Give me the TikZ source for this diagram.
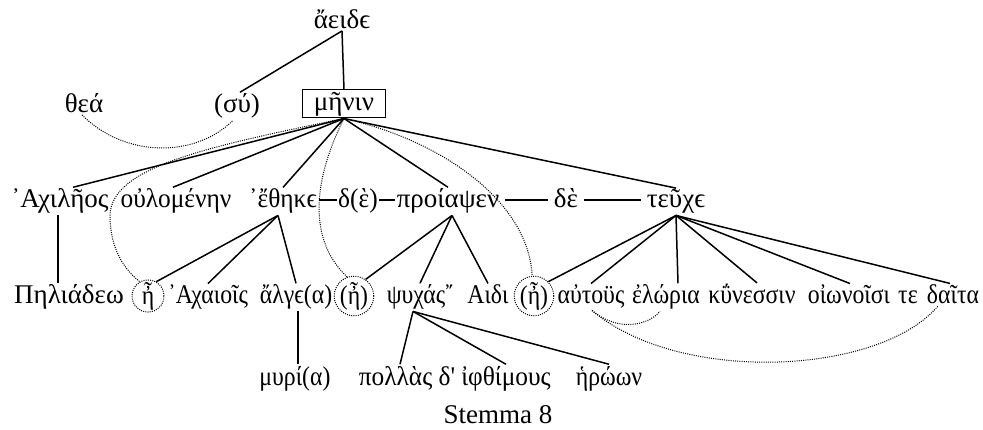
\documentclass[tikz,border=0pt]{standalone}
\usepackage{fontspec}
\setmainfont{Liberation Serif}
\newfontfamily\narrowgreek{Liberation Serif}[FakeStretch=0.88]
\newfontfamily\tightgreek{Liberation Serif}[FakeStretch=0.94]
\newcommand\stemmafont{\fontsize{27}{31}\selectfont}
\newcommand\lowfont{\narrowgreek\fontsize{27}{31}\selectfont}
\newcommand\tightfont{\tightgreek\fontsize{27}{31}\selectfont}
\begin{document}
\begin{tikzpicture}[x=1pt,y=-1pt,
  every node/.style={font=\stemmafont, inner sep=1.5pt},
  word/.style={anchor=base},
  low/.style={anchor=base, font=\lowfont},
  tight/.style={anchor=base, font=\tightfont},
  tie/.style={line width=1.5pt},
  trace/.style={line width=1pt, dash pattern=on 1pt off 1.2pt},
  ring/.style={circle, draw, trace, inner sep=0pt, minimum size=32pt, font=\lowfont}]
\useasboundingbox (0,0) rectangle (983,430);

% top levels
\node[word] (aeide) at (342,29) {ἄειδϵ};
\node[word] (thea) at (84,113) {θεά};
\node[word] (su) at (237,113) {(σύ)};
\node[draw, line width=1pt, minimum width=83pt, minimum height=28pt, inner sep=0pt] (menin) at (344,104) {μῆνιν};

% second row
\node[word] (achil) at (60,208) {᾿Αχιλῆος};
\node[tight] (oulom) at (176,208) {οὐλομένην};
\node[tight] (ethke) at (283,208) {᾿ἔθηκϵ};
\node[tight] (de1) at (358,208) {δ(ὲ)};
\node[word] (proi) at (448,208) {προίαψεν};
\node[word] (de2) at (566,208) {δὲ};
\node[word] (teuxe) at (676,208) {τεῦχϵ};

% third row
\node[word] (pelei) at (69,304) {Πηλιάδεω};
\node[ring] (c1) at (148,296) {ἦ};
\node[low] (achai) at (208,304) {᾿Αχαιοῖς};
\node[low] (alge) at (296,304) {ἄλγϵ(α)};
\node[ring] (c2) at (354,296) {(ἦ)};
\node[low] (psux) at (420,304) {ψυχάς῎};
\node[low] (aidi) at (488,304) {Αιδι};
\node[ring] (c3) at (534,296) {(ἦ)};
\node[low] (autous) at (591,304) {αὐτοϋς};
\node[low] (eloria) at (666,304) {ἐλώρια};
\node[low] (kunes) at (752,304) {κΰνεσσιν};
\node[low] (oion) at (849,304) {οἰωνοῖσι};
\node[low] (te) at (908,304) {τε};
\node[low] (daita) at (953,304) {δαῖτα};

% fourth row
\node[low] (muria) at (295,385) {μυρί(α)};
\node[tight] (pollas) at (407,385) {πολλὰς δ'};
\node[tight] (iphth) at (506,385) {ἰφθίμους};
\node[low] (heroon) at (609,385) {ἡρώων};

\node[word, font=\fontsize{27}{31}\selectfont] (cap) at (498,423) {Stemma 8};

% solid branches
\draw[tie] (aeide.south) -- (menin.north);
\draw[tie] (aeide.south) -- ([xshift=3pt]su.north);
\foreach \t/\s in {achil/13, oulom/-3, ethke/0, proi/0, teuxe/0}
  \draw[tie] (menin.south) -- ([xshift=\s pt]\t.north);
\draw[tie] ([xshift=-2pt]achil.south) -- ([xshift=-2pt]achil.south |- pelei.north);
\foreach \t in {c1.60, achai.north, alge.north}
  \draw[tie] ([xshift=-5pt]ethke.south) -- (\t);
\draw[tie] ([xshift=2pt]alge.south) -- ([xshift=2pt]alge.south |- muria.north);
\foreach \t in {c2.55, psux.north, aidi.north}
  \draw[tie] ([xshift=4pt]proi.south) -- (\t);
\foreach \t/\s in {pollas/-7, iphth/0, heroon/0}
  \draw[tie] ([xshift=-7pt]psux.south) -- ([xshift=\s pt]\t.north);
\draw[tie] (teuxe.south) -- (c3.45);
\foreach \t/\s in {autous/0, eloria/12, kunes/5, oion/1, daita/-3}
  \draw[tie] (teuxe.south) -- ([xshift=\s pt]\t.north);
\draw[tie] ([yshift=8pt]ethke.base east) -- ([yshift=8pt]de1.base west);
\draw[tie] ([yshift=8pt]de1.base east) -- ([yshift=8pt]proi.base west);
\draw[tie] ([xshift=4pt,yshift=8pt]proi.base east) -- ([xshift=-4pt,yshift=8pt]de2.base west);
\draw[tie] ([xshift=4pt,yshift=8pt]de2.base east) -- ([xshift=-4pt,yshift=8pt]teuxe.base west);

% dotted co-reference traces
\draw[trace] ([xshift=-2pt]thea.south) .. controls (125,158) and (195,158) .. ([xshift=-4pt]su.south);
\draw[trace] (menin.south) .. controls (200,148) and (112,168) .. (110,215)
  .. controls (110,250) and (125,270) .. (c1.120);
\draw[trace] (menin.south) .. controls (318,170) and (303,235) .. (c2.110);
\draw[trace] (menin.south) .. controls (440,140) and (528,200) .. (c3.95);
\draw[trace] ([xshift=1pt]autous.south) .. controls (615,330) and (645,328) .. ([xshift=-6pt]eloria.south);
\draw[trace] ([xshift=1pt]autous.south) .. controls (680,385) and (880,375) .. ([xshift=-15pt]daita.south);
\end{tikzpicture}
\end{document}
